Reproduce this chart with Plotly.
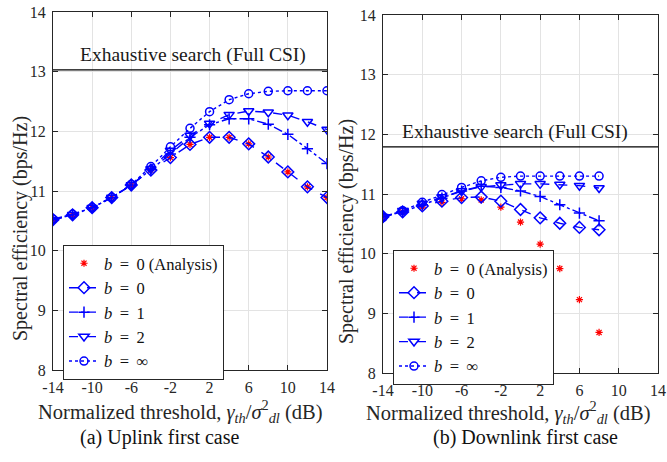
import plotly.graph_objects as go

# ---------------- data ----------------
x_up = [-14, -12, -10, -8, -6, -4, -2, 0, 2, 4, 6, 8, 10, 12, 14]
up_b0_analysis = [10.52, 10.60, 10.72, 10.89, 11.10, 11.35, 11.56, 11.78, 11.90, 11.90, 11.79, 11.57, 11.32, 11.07, 10.89]
up_b0 = [10.52, 10.60, 10.72, 10.89, 11.10, 11.35, 11.56, 11.78, 11.90, 11.90, 11.79, 11.57, 11.32, 11.07, 10.89]
up_b1 = [10.52, 10.60, 10.72, 10.89, 11.10, 11.36, 11.62, 11.90, 12.11, 12.21, 12.21, 12.12, 11.95, 11.71, 11.46]
up_b2 = [10.52, 10.60, 10.72, 10.89, 11.10, 11.37, 11.68, 11.93, 12.13, 12.28, 12.34, 12.32, 12.27, 12.16, 12.03]
up_binf = [10.53, 10.61, 10.72, 10.89, 11.11, 11.41, 11.74, 12.05, 12.33, 12.53, 12.63, 12.67, 12.68, 12.68, 12.68]
up_exhaustive = 13.03

x_dl = [-14, -12, -10, -8, -6, -4, -2, 0, 2, 4, 6, 8]
dl_b0_analysis = [10.62, 10.70, 10.78, 10.86, 10.92, 10.90, 10.78, 10.53, 10.16, 9.75, 9.23, 8.68]
dl_b0 = [10.62, 10.70, 10.80, 10.88, 10.94, 10.95, 10.88, 10.74, 10.60, 10.51, 10.44, 10.40]
dl_b1 = [10.62, 10.70, 10.82, 10.93, 11.05, 11.13, 11.11, 11.05, 10.96, 10.82, 10.68, 10.55]
dl_b2 = [10.62, 10.72, 10.84, 10.95, 11.05, 11.12, 11.15, 11.17, 11.17, 11.16, 11.14, 11.10]
dl_binf = [10.61, 10.72, 10.86, 10.99, 11.11, 11.22, 11.28, 11.30, 11.30, 11.30, 11.30, 11.30]
dl_exhaustive = 11.79

x_ticks = [-14, -10, -6, -2, 2, 6, 10, 14]
x_ticklabels = ["-14", "-10", "-6", "-2", "2", "6", "10", "14"]
y_ticks = [8, 9, 10, 11, 12, 13, 14]

EQ = "\u2009 = \u2009"
names = ["<i>b</i>" + EQ + "0 (Analysis)", "<i>b</i>" + EQ + "0", "<i>b</i>" + EQ + "1",
         "<i>b</i>" + EQ + "2", "<i>b</i>" + EQ + "∞"]
captions = ["(a) Uplink first case", "(b) Downlink first case"]
exh_label = "Exhaustive search (Full CSI)"
xlabel = "Normalized threshold, <i>γ<sub>th</sub></i>/<i>σ</i><sup>2</sup><sub><i>dl</i></sub> (dB)"
ylabel = "Spectral efficiency (bps/Hz)"

FONT = "Liberation Serif"
BLUE = "#0000ff"
TXT = "#262626"

W, H = 667, 462
fig = go.Figure()

def add_panel(xs, ana, b0, b1, b2, binf, xa, ya, leg):
    fig.add_trace(go.Scatter(x=xs, y=ana, mode="markers", name=names[0],
                             marker=dict(symbol="asterisk-open", size=6, color="red",
                                         line=dict(color="red", width=1.2)),
                             xaxis=xa, yaxis=ya, legend=leg))
    fig.add_trace(go.Scatter(x=xs, y=b0, mode="lines+markers", name=names[1],
                             line=dict(color=BLUE, width=1.4, dash="dash"),
                             marker=dict(symbol="diamond-open", size=9, color=BLUE,
                                         line=dict(color=BLUE, width=1.5)),
                             xaxis=xa, yaxis=ya, legend=leg))
    fig.add_trace(go.Scatter(x=xs, y=b1, mode="lines+markers", name=names[2],
                             line=dict(color=BLUE, width=1.4, dash="dashdot"),
                             marker=dict(symbol="cross-thin-open", size=8, color=BLUE,
                                         line=dict(color=BLUE, width=1.5)),
                             xaxis=xa, yaxis=ya, legend=leg))
    fig.add_trace(go.Scatter(x=xs, y=b2, mode="lines+markers", name=names[3],
                             line=dict(color=BLUE, width=1.4, dash="dash"),
                             marker=dict(symbol="triangle-down-open", size=9, color=BLUE,
                                         line=dict(color=BLUE, width=1.5)),
                             xaxis=xa, yaxis=ya, legend=leg))
    fig.add_trace(go.Scatter(x=xs, y=binf, mode="lines+markers", name=names[4],
                             line=dict(color=BLUE, width=1.4, dash="dot"),
                             marker=dict(symbol="circle-open", size=8, color=BLUE,
                                         line=dict(color=BLUE, width=1.5)),
                             xaxis=xa, yaxis=ya, legend=leg))

add_panel(x_up, up_b0_analysis, up_b0, up_b1, up_b2, up_binf, "x", "y", "legend")
add_panel(x_dl, dl_b0_analysis, dl_b0, dl_b1, dl_b2, dl_binf, "x2", "y2", "legend2")

# exhaustive search lines
for xr, yr, val, tx in [("x", "y", up_exhaustive, 0.35), ("x2", "y2", dl_exhaustive, -0.55)]:
    fig.add_shape(type="line", xref=xr + " domain", yref=yr, x0=0, x1=1, y0=val, y1=val,
                  line=dict(color="black", width=1.4))
    fig.add_annotation(xref=xr, yref=yr, x=tx, y=val, text=exh_label, showarrow=False,
                       xanchor="center", yanchor="bottom", yshift=2,
                       font=dict(family=FONT, size=19.5, color="#1a1a1a"))

axis_common = dict(showline=True, linecolor=TXT, linewidth=1, mirror="ticks",
                   ticks="inside", ticklen=5, tickcolor=TXT, automargin=False,
                   showgrid=True, gridcolor="#e3e3e3", gridwidth=1, zeroline=False,
                   ticklabelstandoff=3,
                   tickfont=dict(family=FONT, size=16, color=TXT))

def px_x(p):
    return p / W

def px_y(p):
    return 1 - p / H

legend_common = dict(xanchor="left", yanchor="top", bgcolor="white",
                     bordercolor=TXT, borderwidth=1,
                     font=dict(family=FONT, size=16.5, color="#111"),
                     itemwidth=30, tracegroupgap=0)

fig.update_layout(
    width=W, height=H, margin=dict(l=0, r=0, t=0, b=0, autoexpand=False),
    paper_bgcolor="white", plot_bgcolor="white",
    font=dict(family=FONT, size=16, color=TXT),
    xaxis=dict(domain=[px_x(53), px_x(327)], range=[-14, 14], tickvals=x_ticks,
               ticktext=x_ticklabels, anchor="y", **axis_common),
    yaxis=dict(domain=[px_y(370), px_y(12)], range=[8, 14], tickvals=y_ticks,
               anchor="x", **axis_common),
    xaxis2=dict(domain=[px_x(383), px_x(658)], range=[-14, 14], tickvals=x_ticks,
                ticktext=x_ticklabels, anchor="y2", **axis_common),
    yaxis2=dict(domain=[px_y(373), px_y(15)], range=[8, 14], tickvals=y_ticks,
                anchor="x2", **axis_common),
    legend=dict(x=px_x(63), y=px_y(245), **legend_common),
    legend2=dict(x=px_x(393), y=px_y(250), **legend_common),
    showlegend=True,
)

# axis titles and captions
for cx, ty in [(180, 411), (508, 412)]:
    fig.add_annotation(xref="paper", yref="paper", x=px_x(cx), y=px_y(ty), text=xlabel,
                       xanchor="center", yanchor="middle", showarrow=False,
                       font=dict(family=FONT, size=20.5, color=TXT))
for cx, cy in [(20, 229), (346, 232)]:
    fig.add_annotation(xref="paper", yref="paper", x=px_x(cx), y=px_y(cy), text=ylabel,
                       xanchor="center", yanchor="middle", textangle=-90, showarrow=False,
                       font=dict(family=FONT, size=20, color=TXT))
for cx, text in [(160, captions[0]), (525, captions[1])]:
    fig.add_annotation(xref="paper", yref="paper", x=px_x(cx), y=px_y(437), text=text,
                       xanchor="center", yanchor="middle", showarrow=False,
                       font=dict(family=FONT, size=20, color="#111"))

fig.write_html("out.html")
